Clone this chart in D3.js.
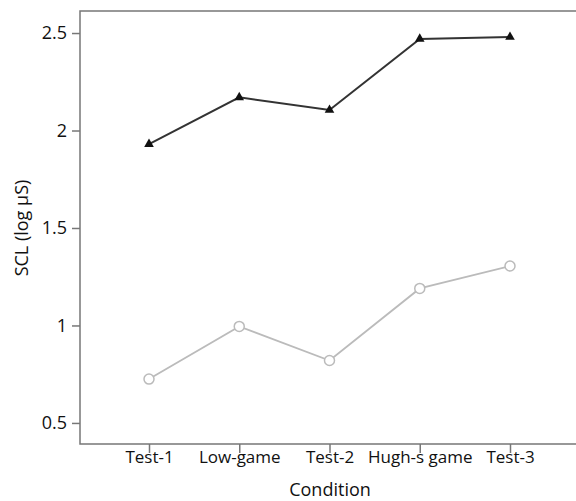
<!DOCTYPE html>
<html>
<head>
<meta charset="utf-8">
<script src="https://cdn.jsdelivr.net/npm/d3@7"></script>
<style>
  body { margin: 0; background: #fff; }
  text { font-family: "Open Sans", sans-serif; fill: #111; }
</style>
</head>
<body>
<div id="chart"></div>
<script>
// data
const conditions = ["Test-1", "Low-game", "Test-2", "Hugh-s game", "Test-3"];
const highSeries = [1.93, 2.17, 2.105, 2.47, 2.48];
const lowSeries = [0.725, 0.995, 0.82, 1.19, 1.305];
const yTicks = [0.5, 1, 1.5, 2, 2.5];

const width = 576, height = 501;
const plotLeft = 80, plotTop = 11, plotBottom = 444;

const svg = d3.select("#chart").append("svg")
  .attr("width", width)
  .attr("height", height);

const x = d3.scalePoint()
  .domain(conditions)
  .range([149, 510]);

const y = d3.scaleLinear()
  .domain([0.392, 2.613])
  .range([plotBottom, plotTop]);

// frame: top + left + bottom, no right edge
svg.append("path")
  .attr("d", `M${width},${plotTop}H${plotLeft}V${plotBottom}H${width}`)
  .attr("fill", "none")
  .attr("stroke", "#777")
  .attr("stroke-width", 1.5);

const yAxis = svg.append("g")
  .attr("transform", `translate(${plotLeft},0)`)
  .call(d3.axisLeft(y).tickValues(yTicks).tickSize(8).tickPadding(5).tickFormat(d3.format("")));
yAxis.select(".domain").remove();
yAxis.selectAll("line").attr("stroke", "#777").attr("stroke-width", 1.5);
yAxis.selectAll("text").style("font-size", "18px").style("font-family", "Open Sans, sans-serif").attr("fill", "#111");

const xAxis = svg.append("g")
  .attr("transform", `translate(0,${plotBottom})`)
  .call(d3.axisBottom(x).tickSize(9).tickPadding(-2));
xAxis.select(".domain").remove();
xAxis.selectAll("line").attr("stroke", "#777").attr("stroke-width", 1.5);
xAxis.selectAll("text").style("font-size", "17px").style("font-family", "Open Sans, sans-serif").attr("fill", "#111");

svg.append("text")
  .attr("x", 330)
  .attr("y", 496)
  .attr("text-anchor", "middle")
  .style("font-size", "18px")
  .text("Condition");

svg.append("text")
  .attr("transform", "translate(28,228) rotate(-90)")
  .attr("text-anchor", "middle")
  .style("font-size", "18px")
  .text("SCL (log µS)");

const line = d3.line()
  .x((d, i) => x(conditions[i]))
  .y(d => y(d));

svg.append("path")
  .datum(lowSeries)
  .attr("d", line)
  .attr("fill", "none")
  .attr("stroke", "#bbb")
  .attr("stroke-width", 1.8);

svg.selectAll(".pt-low")
  .data(lowSeries)
  .join("circle")
  .attr("class", "pt-low")
  .attr("cx", (d, i) => x(conditions[i]))
  .attr("cy", d => y(d))
  .attr("r", 5)
  .attr("fill", "#fff")
  .attr("stroke", "#bbb")
  .attr("stroke-width", 1.5);

svg.append("path")
  .datum(highSeries)
  .attr("d", line)
  .attr("fill", "none")
  .attr("stroke", "#333")
  .attr("stroke-width", 2);

const tri = d3.symbol().type(d3.symbolTriangle).size(40);
svg.selectAll(".pt-high")
  .data(highSeries)
  .join("path")
  .attr("class", "pt-high")
  .attr("transform", (d, i) => `translate(${x(conditions[i])},${y(d)})`)
  .attr("d", tri)
  .attr("fill", "#111");
</script>
</body>
</html>
